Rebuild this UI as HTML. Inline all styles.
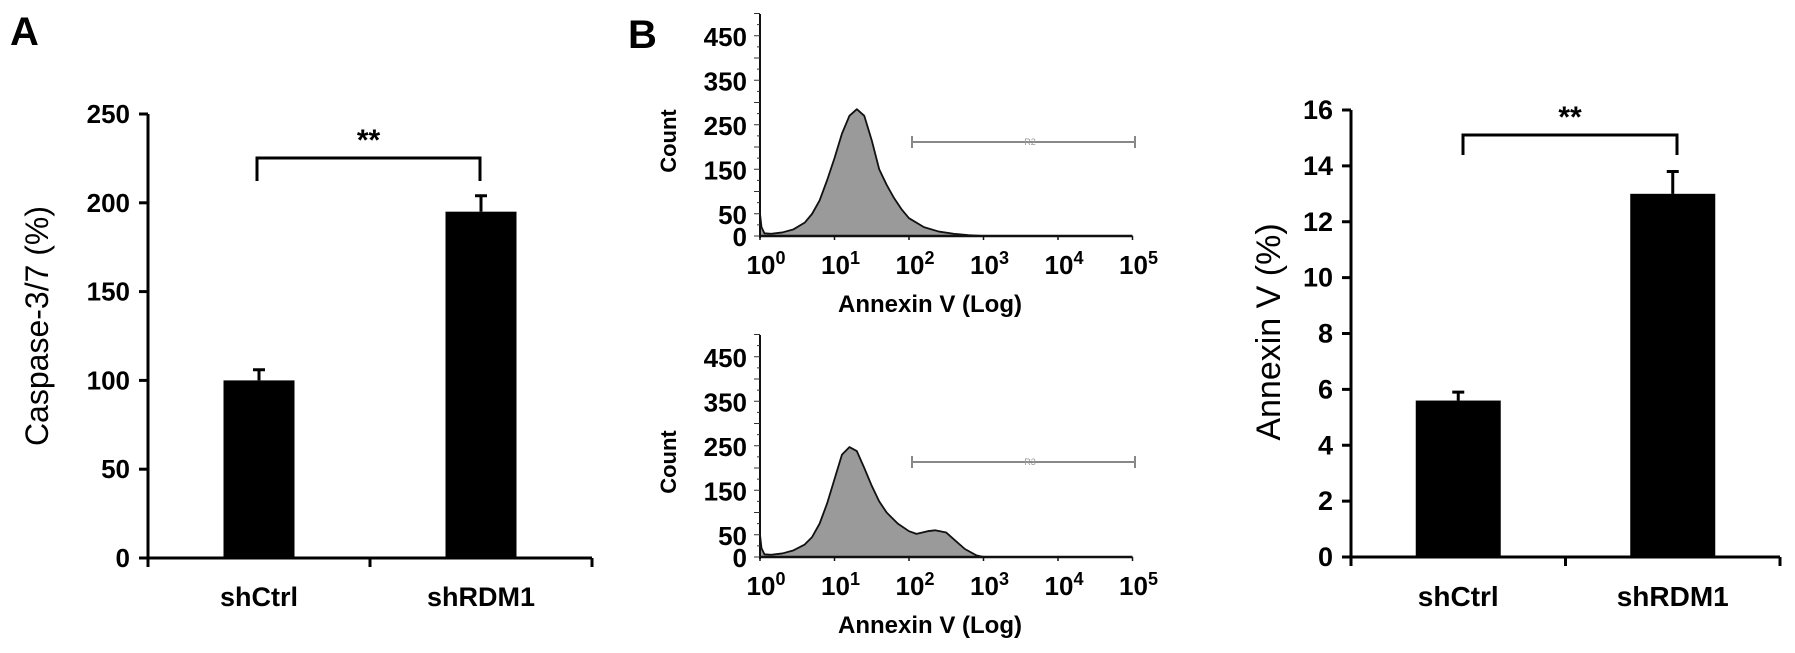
<!DOCTYPE html>
<html><head><meta charset="utf-8"><style>
html,body{margin:0;padding:0;background:#fff;}
svg{display:block;font-family:"Liberation Sans",sans-serif;}
</style></head><body>
<svg id="fig" width="1795" height="653" viewBox="0 0 1795 653"></svg>
<script>
// Panel A data
const catsA = ["shCtrl","shRDM1"];
const valsA = [100,195];
const errA = [106,204];
const ticksA = [0,50,100,150,200,250];
// Panel B bar data
const catsB = ["shCtrl","shRDM1"];
const valsB = [5.6,13.0];
const errB = [5.9,13.8];
const ticksB = [0,2,4,6,8,10,12,14,16];
// Histogram data (log10 position, count)
const histTicks = [0,50,150,250,350,450];
const decades = [0,1,2,3,4,5];
const h1x = [0,0.02,0.06,0.15,0.3,0.45,0.6,0.7,0.8,0.9,1.0,1.1,1.2,1.3,1.4,1.5,1.6,1.7,1.8,1.9,2.0,2.2,2.4,2.6,2.8,3.0];
const h1y = [50,20,6,5,8,15,30,50,80,125,175,230,270,285,270,215,150,115,85,60,40,20,10,5,2,0];
const h2x = [0,0.02,0.06,0.15,0.3,0.45,0.6,0.7,0.8,0.9,1.0,1.1,1.2,1.3,1.4,1.5,1.6,1.7,1.85,2.0,2.1,2.25,2.35,2.5,2.6,2.75,2.9,3.0];
const h2y = [50,20,6,5,8,15,28,45,75,120,175,230,247,238,200,160,125,100,75,58,52,58,60,55,40,18,4,0];

const NS="http://www.w3.org/2000/svg";
const svg=document.getElementById('fig');
function el(tag,attrs,parent){const e=document.createElementNS(NS,tag);for(const k in attrs)e.setAttribute(k,attrs[k]);(parent||svg).appendChild(e);return e;}
function txt(s,attrs){const t=el('text',attrs);t.textContent=s;return t;}

let t=txt("A",{x:10,y:45,"font-size":40,"font-weight":"bold"});


t=txt("B",{x:628,y:48,"font-size":40,"font-weight":"bold"});



function barChart(o){
  const g=el('g',{});
  
  
  const y=v=>o.y0-(v-o.ymin)/(o.ymax-o.ymin)*(o.y0-o.ytop);
  const xc=i=>o.x0+(o.x1-o.x0)*(i+0.5)/o.cats.length;
  let a=el('line',{x1:o.x0,y1:o.ytop,x2:o.x0,y2:o.y0+9,stroke:"#000","stroke-width":3},g);
  
  
  a=el('line',{x1:o.x0,y1:o.y0,x2:o.x1,y2:o.y0,stroke:"#000","stroke-width":3},g);
  
  
  for(let i=1;i<=o.cats.length;i++){const xx=o.x0+(o.x1-o.x0)*i/o.cats.length;el('line',{x1:xx,y1:o.y0,x2:xx,y2:o.y0+9,stroke:"#000","stroke-width":3},g);}
  o.ticks.forEach(v=>{
    el('line',{x1:o.x0-9,y1:y(v),x2:o.x0,y2:y(v),stroke:"#000","stroke-width":3},g);
    const tl=txt(String(v),{x:o.x0-18,y:y(v)+9,"font-size":o.fs,"font-weight":"bold","text-anchor":"end"});
    
    
  });
  o.cats.forEach((c,i)=>{
    const b=el('rect',{x:xc(i)-o.bw/2,y:y(o.vals[i]),width:o.bw,height:o.y0-y(o.vals[i]),fill:"#000"},g);
    
    
    const e=el('path',{d:`M${xc(i)},${y(o.vals[i])}V${y(o.errs[i])}M${xc(i)-6},${y(o.errs[i])}H${xc(i)+6}`,stroke:"#000","stroke-width":3,fill:"none"},g);
    
    
    const l=txt(c,{x:xc(i),y:o.xly,"font-size":o.xfs,"font-weight":"bold","text-anchor":"middle"});
    
    
  });
  const br=el('path',{d:`M${o.bl},${o.brLeg}V${o.brY}H${o.br}V${o.brLeg}`,stroke:"#000","stroke-width":3,fill:"none"},g);
  
  
  const st=txt("**",{x:(o.bl+o.br)/2,y:o.brY-8,"font-size":30,"font-weight":"bold","text-anchor":"middle"});
  
  
  const yt=txt(o.title,{x:0,y:0,"font-size":o.tfs,"text-anchor":"middle",transform:`translate(${o.tx},${o.ty}) rotate(-90)`});
  
  
}
barChart({name:"caspase-chart",cats:catsA,vals:valsA,errs:errA,ticks:ticksA,ymin:0,ymax:250,x0:148,x1:592,y0:558,ytop:114,bw:71,fs:26,xfs:27,xly:606,bl:257,br:480,brY:158,brLeg:181,title:"Caspase-3/7 (%)",tfs:32,tx:48,ty:326});
barChart({name:"annexin-chart",cats:catsB,vals:valsB,errs:errB,ticks:ticksB,ymin:0,ymax:16,x0:1351,x1:1780,y0:557,ytop:110,bw:85,fs:27,xfs:28,xly:606,bl:1463,br:1677,brY:135,brLeg:155,title:"Annexin V (%)",tfs:34,tx:1280,ty:332});

function hist(o){
  const g=el('g',{});
  
  
  const X=d=>760+d*74.5;
  const Y=v=>o.y0-v*0.445;
  let d=`M${X(o.xs[0])},${o.y0}`;
  o.xs.forEach((xv,i)=>{d+=`L${X(xv)},${Y(o.ys[i])}`;});
  d+=`L${X(o.xs[o.xs.length-1])},${o.y0}Z`;
  const p=el('path',{d:d,fill:"#9a9a9a",stroke:"#111","stroke-width":1.8,"stroke-linejoin":"round"},g);
  
  
  let a=el('line',{x1:760,y1:o.y0-222,x2:760,y2:o.y0+2,stroke:"#111","stroke-width":2},g);
  
  
  a=el('line',{x1:759,y1:o.y0,x2:X(5),y2:o.y0,stroke:"#111","stroke-width":2.5},g);
  
  
  for(let v=0;v<=500;v+=25){el('line',{x1:v%50===0?754:757,y1:Y(v),x2:760,y2:Y(v),stroke:"#333","stroke-width":1},g);}
  histTicks.forEach(v=>{
    const tl=txt(String(v),{x:747,y:Y(v)+10,"font-size":26,"font-weight":"bold","text-anchor":"end"});
    
    
  });
  decades.forEach(k=>{
    el('line',{x1:X(k),y1:o.y0,x2:X(k),y2:o.y0+4,stroke:"#111","stroke-width":1.5},g);
    const tl=el('text',{x:X(k)+6,y:o.y0+38,"font-size":26,"font-weight":"bold","text-anchor":"middle"});
    tl.innerHTML=`10<tspan dy="-10" font-size="18">${k}</tspan>`;
    
    
  });
  const gate=el('path',{d:`M912,${o.gy-6}V${o.gy+6}M912,${o.gy}H1135M1135,${o.gy-6}V${o.gy+6}`,stroke:"#888","stroke-width":2,fill:"none"},g);
  
  
  const gl=txt(o.gate,{x:1030,y:o.gy+3,"font-size":9,fill:"#999","text-anchor":"middle"});
  
  
  const xt=txt("Annexin V  (Log)",{x:930,y:o.y0+76,"font-size":24,"font-weight":"bold","text-anchor":"middle"});
  
  
  const yt=txt("Count",{x:0,y:0,"font-size":22,"font-weight":"bold","text-anchor":"middle",transform:`translate(${676},${o.y0-95}) rotate(-90)`});
  
  
}
hist({name:"histogram-shctrl",xs:h1x,ys:h1y,y0:236,gy:142,gate:"R2"});
hist({name:"histogram-shrdm1",xs:h2x,ys:h2y,y0:557,gy:462,gate:"R3"});
</script>
</body></html>
